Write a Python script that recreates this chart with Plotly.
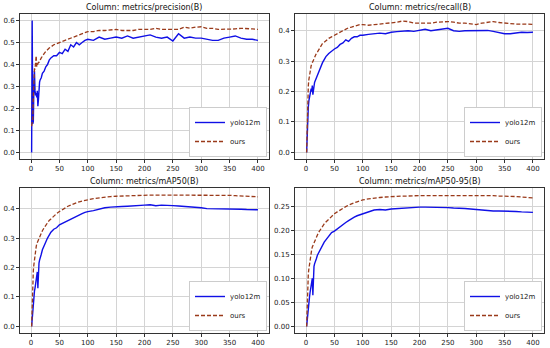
import plotly.graph_objects as go

epochs = [1,2,3,4,5,6,7,8,9,10,11,12,13,14,15,16,18,20,23,26,29,32,35,40,45,50,55,60,65,70,75,80,85,90,95,100,
          110,120,130,140,150,160,170,180,190,200,210,220,230,240,250,260,270,280,290,300,310,320,330,340,350,360,370,380,390,400]

precision_yolo = [0.0,0.60,0.13,0.14,0.30,0.37,0.28,0.26,0.27,0.25,0.28,0.21,0.24,0.30,0.32,0.33,0.34,0.36,0.37,0.39,0.40,0.42,0.43,0.44,0.44,0.455,
                  0.45,0.47,0.46,0.49,0.48,0.50,0.49,0.50,0.51,0.515,0.51,0.525,0.515,0.52,0.525,0.52,0.53,0.52,0.525,0.53,0.535,0.525,0.52,0.525,0.507,
                  0.54,0.52,0.525,0.52,0.52,0.515,0.51,0.51,0.52,0.525,0.53,0.52,0.515,0.515,0.51]
precision_ours = [0.12,0.13,0.15,0.25,0.33,0.38,0.38,0.40,0.44,0.39,0.40,0.41,0.41,0.41,0.42,0.42,0.43,0.44,0.45,0.46,0.47,0.475,0.48,0.49,0.495,0.50,
                  0.505,0.51,0.515,0.52,0.525,0.53,0.535,0.54,0.545,0.55,0.55,0.555,0.555,0.558,0.56,0.555,0.555,0.555,0.56,0.56,0.56,0.565,0.56,0.56,0.56,
                  0.56,0.57,0.565,0.57,0.572,0.565,0.565,0.56,0.56,0.56,0.562,0.565,0.565,0.562,0.56]

recall_yolo = [0.0,0.06,0.13,0.15,0.17,0.18,0.19,0.20,0.21,0.20,0.22,0.19,0.21,0.22,0.23,0.235,0.245,0.255,0.27,0.285,0.295,0.305,0.315,0.325,0.333,0.34,
               0.345,0.355,0.36,0.37,0.365,0.375,0.38,0.38,0.385,0.385,0.388,0.39,0.392,0.39,0.395,0.397,0.398,0.40,0.398,0.402,0.405,0.40,0.402,0.405,0.408,
               0.40,0.398,0.40,0.40,0.40,0.40,0.401,0.398,0.395,0.39,0.39,0.393,0.395,0.394,0.395]
recall_ours = [0.0,0.10,0.18,0.22,0.24,0.255,0.265,0.275,0.285,0.29,0.295,0.30,0.305,0.31,0.315,0.318,0.325,0.33,0.34,0.35,0.358,0.362,0.368,0.375,0.38,0.385,
               0.39,0.395,0.40,0.405,0.41,0.412,0.415,0.417,0.42,0.42,0.418,0.42,0.422,0.425,0.425,0.428,0.432,0.43,0.425,0.425,0.425,0.425,0.428,0.43,0.43,
               0.428,0.425,0.425,0.423,0.42,0.425,0.428,0.43,0.427,0.425,0.423,0.422,0.422,0.422,0.421]

map50_yolo = [0.0,0.03,0.06,0.08,0.10,0.12,0.13,0.15,0.16,0.17,0.185,0.13,0.20,0.215,0.225,0.23,0.245,0.26,0.275,0.29,0.30,0.31,0.32,0.33,0.335,0.345,
              0.35,0.355,0.36,0.365,0.37,0.375,0.38,0.383,0.387,0.39,0.393,0.398,0.403,0.405,0.405,0.407,0.408,0.41,0.41,0.412,0.413,0.41,0.412,0.41,0.41,
              0.409,0.408,0.407,0.405,0.403,0.40,0.40,0.40,0.40,0.40,0.399,0.398,0.397,0.397,0.396]
map50_ours = [0.0,0.09,0.15,0.19,0.21,0.23,0.25,0.26,0.27,0.28,0.285,0.29,0.295,0.30,0.305,0.31,0.318,0.325,0.335,0.345,0.352,0.36,0.365,0.375,0.383,0.39,
              0.397,0.403,0.408,0.412,0.417,0.42,0.423,0.426,0.428,0.43,0.434,0.437,0.439,0.441,0.442,0.443,0.444,0.444,0.445,0.445,0.446,0.446,0.446,0.447,
              0.447,0.447,0.447,0.447,0.447,0.447,0.447,0.446,0.446,0.445,0.445,0.444,0.443,0.442,0.441,0.44]

map5095_yolo = [0.0,0.015,0.03,0.04,0.05,0.06,0.07,0.08,0.085,0.09,0.10,0.065,0.115,0.125,0.13,0.135,0.14,0.148,0.155,0.163,0.17,0.175,0.18,0.188,0.195,
                0.198,0.203,0.208,0.213,0.216,0.22,0.224,0.227,0.23,0.232,0.234,0.237,0.242,0.243,0.242,0.244,0.245,0.246,0.247,0.248,0.248,0.248,0.248,
                0.248,0.247,0.247,0.246,0.246,0.245,0.244,0.243,0.241,0.24,0.24,0.24,0.24,0.239,0.239,0.238,0.238,0.237]
map5095_ours = [0.0,0.05,0.09,0.11,0.12,0.13,0.14,0.148,0.155,0.16,0.165,0.168,0.172,0.175,0.178,0.18,0.185,0.19,0.197,0.203,0.208,0.213,0.217,0.223,
                0.229,0.234,0.238,0.242,0.246,0.249,0.252,0.255,0.257,0.259,0.261,0.263,0.265,0.267,0.268,0.269,0.27,0.27,0.271,0.271,0.272,0.272,0.272,
                0.272,0.272,0.272,0.272,0.273,0.273,0.273,0.273,0.273,0.273,0.272,0.272,0.271,0.271,0.27,0.27,0.269,0.268,0.267]

titles = ["Column: metrics/precision(B)", "Column: metrics/recall(B)",
          "Column: metrics/mAP50(B)", "Column: metrics/mAP50-95(B)"]
series_names = ["yolo12m", "ours"]
x_ticks = [0, 50, 100, 150, 200, 250, 300, 350, 400]
y_ticks = [[0.0, 0.1, 0.2, 0.3, 0.4, 0.5, 0.6],
           [0.0, 0.1, 0.2, 0.3, 0.4],
           [0.0, 0.1, 0.2, 0.3, 0.4],
           [0.0, 0.05, 0.10, 0.15, 0.20, 0.25]]
y_ranges = [[-0.03, 0.63], [-0.0217, 0.455], [-0.0224, 0.47], [-0.0137, 0.2877]]
y_formats = [".1f", ".1f", ".1f", ".2f"]

panels = [(precision_yolo, precision_ours), (recall_yolo, recall_ours),
          (map50_yolo, map50_ours), (map5095_yolo, map5095_ours)]

W, H = 550, 348
xdoms = [[20/W, 269/W], [295/W, 544/W]]
ydoms = [[1-159/H, 1-14/H], [1-333/H, 1-188/H]]

BLUE = "#1010e6"
RED = "#9a3a1a"
FONT = "DejaVu Sans"

fig = go.Figure()
layout = dict(width=W, height=H, margin=dict(l=0, r=0, t=0, b=0),
              paper_bgcolor="white", plot_bgcolor="white",
              font=dict(family=FONT, size=7, color="#222"), showlegend=True)
annotations = []
for i, (yb, yr) in enumerate(panels):
    r, c = divmod(i, 2)
    sfx = "" if i == 0 else str(i + 1)
    xa, ya = "x" + sfx, "y" + sfx
    lg = "legend" + sfx
    fig.add_trace(go.Scatter(x=epochs, y=yb, mode="lines", name=series_names[0],
                             line=dict(color=BLUE, width=1.4), xaxis=xa, yaxis=ya, legend=lg))
    fig.add_trace(go.Scatter(x=epochs, y=yr, mode="lines", name=series_names[1],
                             line=dict(color=RED, width=1.3, dash="4px,2px"), xaxis=xa, yaxis=ya, legend=lg))
    axcommon = dict(showline=True, mirror=True, linecolor="#333", linewidth=0.8,
                    showgrid=True, gridcolor="#d4d4d4", gridwidth=0.8, zeroline=False,
                    ticks="outside", ticklen=3, tickcolor="#333", tickwidth=0.8,
                    tickfont=dict(family=FONT, size=7, color="#222"))
    layout["xaxis" + sfx] = dict(domain=xdoms[c], anchor=ya, range=[-19.5, 419.5],
                                 tickvals=x_ticks, **axcommon)
    layout["yaxis" + sfx] = dict(domain=ydoms[r], anchor=xa, range=y_ranges[i],
                                 tickvals=y_ticks[i], tickformat=y_formats[i], **axcommon)
    layout[lg] = dict(x=xdoms[c][1] - 2/W, y=ydoms[r][0] + 2/H, xanchor="right", yanchor="bottom",
                      bgcolor="white", bordercolor="#cccccc", borderwidth=1,
                      font=dict(family=FONT, size=7, color="#222"), itemwidth=30,
                      tracegroupgap=0)
    annotations.append(dict(text=titles[i], x=(xdoms[c][0] + xdoms[c][1]) / 2,
                            y=ydoms[r][1] + 7/H, xref="paper", yref="paper",
                            xanchor="center", yanchor="middle", showarrow=False,
                            font=dict(family=FONT, size=8, color="#111")))
layout["annotations"] = annotations
fig.update_layout(**layout)
fig.write_html("out.html", config={"displayModeBar": False},
               post_script="document.body.style.margin='0';")
